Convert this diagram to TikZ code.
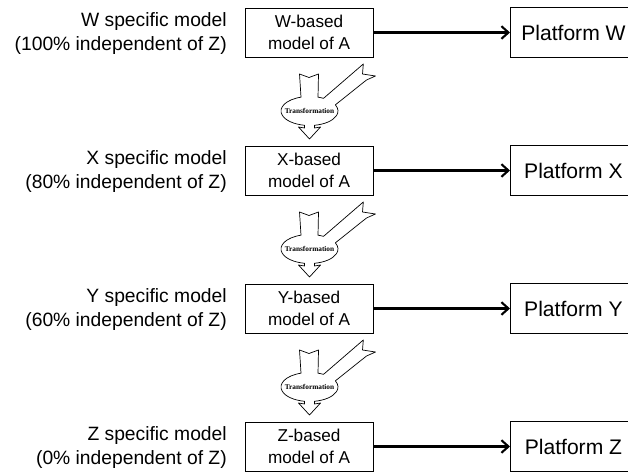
\documentclass[tikz,border=0pt]{standalone}
\usepackage{fontspec}
\setmainfont{Liberation Sans}
\newfontfamily\trafont{Liberation Serif}
\usetikzlibrary{arrows.meta,positioning}

\def\rowgap{138}
\def\erx{28.5}
\def\ery{14.5}

\begin{document}
\begin{tikzpicture}[
    x=0.025cm, y=0.025cm,
    desc/.style={anchor=east,align=right,inner sep=0pt,font=\fontsize{13.7}{16.5}\selectfont},
    model/.style={rectangle,draw,line width=0.6pt,minimum width=3.2cm,minimum height=1.225cm,align=center,inner sep=0pt,font=\fontsize{12.2}{15.5}\selectfont},
    platform/.style={rectangle,draw,line width=0.6pt,minimum width=3.15cm,minimum height=1.25cm,anchor=west,inner sep=0pt,font=\fontsize{15}{18}\selectfont},
    link/.style={line width=1.5pt,-{Straight Barb[length=5pt,width=9pt]}},
    trans/.style={draw=black,fill=white,line width=0.5pt,line join=round},
    trtext/.style={font=\trafont\bfseries\fontsize{5.2}{6}\selectfont,inner sep=0pt},
]
\useasboundingbox (0,0) rectangle (628,-471);
\clip (0,0) rectangle (628,-471);

% one row per platform
\foreach \m/\p [count=\i from 0] in {W/100,X/80,Y/60,Z/0} {
    \node[desc] (desc\m) at (227,{-33.5-\rowgap*\i}) {\m{} specific model\\(\p\% independent of Z)};
    \node[model] (model\m) at (309,{-32.5-\rowgap*\i}) {\m-based\\model of A};
    \node[platform] (plat\m) at (510,{-32.5-\rowgap*\i}) {Platform \m};
    \draw[link] (model\m) -- (plat\m);
}

% transformation symbols between the rows
\foreach \i in {0,1,2} {
\begin{scope}[shift={(309.5,{-111-\rowgap*\i})}]
\draw[trans] (-10,37) -- (-8.5,13.84)
    arc[start angle=107.35,end angle=260,x radius=\erx,y radius=\ery]
    -- (-5,-17) -- (-11,-16) -- (0,-28) -- (11,-16) -- (5,-17) -- (4.95,-14.28)
    arc[start angle=280,end angle=385,x radius=\erx,y radius=\ery]
    -- (57,31) -- (66,35) -- (53,37) -- (53.8,47) -- (14,12.63)
    arc[start angle=60.6,end angle=72.65,x radius=\erx,y radius=\ery]
    -- (9,37) -- (-0.5,33.5) -- cycle;
\node[trtext] (tr\i) at (0,0) {Transformation};
\end{scope}
}

\end{tikzpicture}
\end{document}
